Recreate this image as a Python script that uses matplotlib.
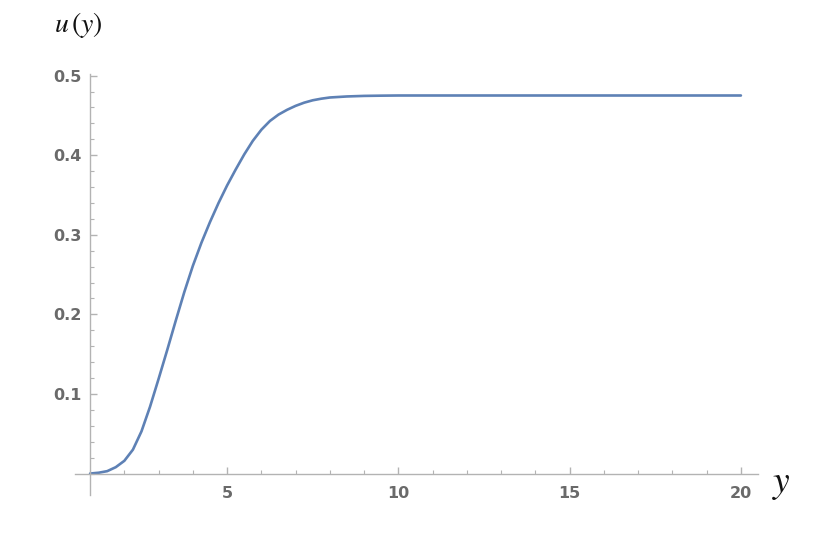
import numpy as np
import matplotlib.pyplot as plt

# values
y_vals = [1.0, 1.25, 1.5, 1.75, 2.0, 2.25, 2.5, 2.75, 3.0, 3.25, 3.5, 3.75,
          4.0, 4.25, 4.5, 4.75, 5.0, 5.25, 5.5, 5.75, 6.0, 6.25, 6.5, 6.75,
          7.0, 7.25, 7.5, 7.75, 8.0, 8.5, 9.0, 9.5, 10.0, 12.0, 14.0, 16.0,
          18.0, 20.0]
u_vals = [0.0, 0.001, 0.003, 0.008, 0.016, 0.030, 0.053, 0.084, 0.119, 0.155,
          0.192, 0.228, 0.261, 0.290, 0.316, 0.340, 0.362, 0.382, 0.401, 0.418,
          0.432, 0.443, 0.451, 0.457, 0.462, 0.466, 0.469, 0.471, 0.4725,
          0.4738, 0.4745, 0.4748, 0.475, 0.475, 0.475, 0.475, 0.475, 0.475]

x_major = [5, 10, 15, 20]
x_minor = list(range(1, 21))
y_major = [0.1, 0.2, 0.3, 0.4, 0.5]
y_minor = [round(0.02 * i, 2) for i in range(0, 26)]

plt.rcParams['mathtext.fontset'] = 'stix'

fig = plt.figure(figsize=(8.3, 5.34), dpi=100)
ax = fig.add_axes([0.0904, 0.0730, 0.8229, 0.7884])

ax.plot(y_vals, u_vals, color='#5E81B5', lw=1.9, solid_capstyle='round',
        solid_joinstyle='round')

ax.set_xlim(0.56, 20.5)
ax.set_ylim(-0.027, 0.502)

axis_col = '#b3b3b3'
for s in ['top', 'right']:
    ax.spines[s].set_visible(False)
ax.spines['left'].set_position(('data', 1))
ax.spines['bottom'].set_position(('data', 0))
for s in ['left', 'bottom']:
    ax.spines[s].set_color(axis_col)
    ax.spines[s].set_linewidth(1.0)

ax.set_xticks(x_major)
ax.set_xticks(x_minor, minor=True)
ax.set_yticks(y_major)
ax.set_yticks(y_minor, minor=True)
ax.set_xticklabels([str(v) for v in x_major])
ax.set_yticklabels(['%.1f' % v for v in y_major])

ax.tick_params(which='major', direction='in', length=5, width=1.0, color=axis_col,
               labelcolor='#6a6a6a', labelsize=11.5)
ax.tick_params(which='minor', direction='in', length=3, width=0.8, color=axis_col)
ax.tick_params(axis='x', which='major', pad=9)
ax.tick_params(axis='y', which='major', pad=6)
for lab in ax.get_xticklabels() + ax.get_yticklabels():
    lab.set_fontweight('bold')
    lab.set_fontfamily('DejaVu Sans')

fig.text(0.065, 0.953, r'$u\,(y)$', fontsize=20, ha='left', va='center', color='#111111')
fig.text(0.930, 0.093, r'$y$', fontsize=27, ha='left', va='center', color='#111111')

fig.savefig('out.png', dpi=100)
